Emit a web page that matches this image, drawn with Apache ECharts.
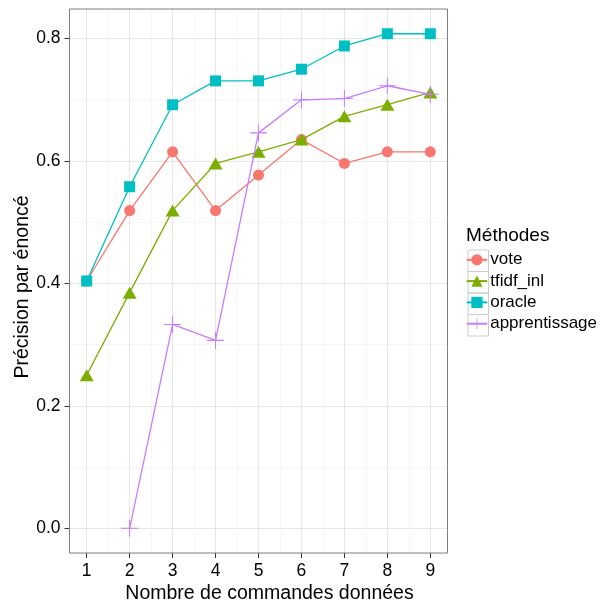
<!DOCTYPE html>
<html>
<head>
<meta charset="utf-8">
<script src="https://cdn.jsdelivr.net/npm/echarts@6/dist/echarts.min.js"></script>
<style>html,body{margin:0;padding:0;background:#fff}#c{width:602px;height:608px}</style>
</head>
<body>
<div id="c"></div>
<script>
const xValues = [1, 2, 3, 4, 5, 6, 7, 8, 9];
const vote = [0.404, 0.519, 0.615, 0.519, 0.577, 0.635, 0.596, 0.615, 0.615];
const tfidf_inl = [0.250, 0.385, 0.519, 0.596, 0.615, 0.635, 0.673, 0.692, 0.712];
const oracle = [0.404, 0.558, 0.692, 0.731, 0.731, 0.750, 0.788, 0.808, 0.808];
const apprentissage = [null, 0.000, 0.333, 0.307, 0.646, 0.700, 0.702, 0.723, 0.709];
const seriesNames = ['vote', 'tfidf_inl', 'oracle', 'apprentissage'];
const xTicks = [1, 9];
const yTicks = [0, 0.8];
const yStep = 0.2;

const FONT = 'Liberation Sans';
const colors = ['#F8766D', '#7CAE00', '#00BFC4', '#C77CFF'];
const plusPath = 'path://M0,9.4H20V10.6H0Z M9.4,0H10.6V20H9.4Z';
const symbols = ['circle', 'triangle', 'rect', plusPath];
const sizes = [11, [14, 12], 11, 17];
const allVals = [vote, tfidf_inl, oracle, apprentissage];

// panel geometry (ggplot expansion)
const P = {left: 69.5, right: 447.5, top: 9, bottom: 553};
const xMin = 0.6, xMax = 9.4;
const yMin = -0.0404, yMax = 0.8484;
const W = 602, H = 608;
const xPix = v => P.left + (v - xMin) / (xMax - xMin) * (P.right - P.left);
const yPix = v => P.bottom - (v - yMin) / (yMax - yMin) * (P.bottom - P.top);

const chart = echarts.init(document.getElementById('c'), null, {renderer: 'canvas'});

const series = seriesNames.map((n, i) => ({
  name: n,
  type: 'line',
  xAxisIndex: 0,
  yAxisIndex: 0,
  data: xValues.map((x, j) => allVals[i][j] == null ? [x, '-'] : [x, allVals[i][j]]),
  symbol: symbols[i],
  symbolSize: sizes[i],
  showAllSymbol: true,
  connectNulls: false,
  lineStyle: {color: colors[i], width: 1.3},
  itemStyle: {color: colors[i], borderWidth: 0},
  emphasis: {disabled: true},
  z: 3 + i
}));

const legendKeys = seriesNames.map((n, i) => ({
  type: 'rect',
  left: 465.5,
  top: 247.5 + i * 21.5,
  shape: {width: 20.5, height: 21.5},
  style: {fill: 'none', stroke: '#CCCCCC', lineWidth: 1},
  z: 0
}));

const gridBase = {containLabel: false, outerBoundsMode: 'none'};

chart.setOption({
  animation: false,
  backgroundColor: '#fff',
  textStyle: {fontFamily: FONT},
  grid: [
    Object.assign({left: P.left, right: W - P.right, top: P.top, bottom: H - P.bottom, show: true,
     borderColor: '#7F7F7F', borderWidth: 1, backgroundColor: 'transparent', z: 1}, gridBase),
    Object.assign({left: xPix(xTicks[0]), right: W - xPix(xTicks[1]), top: P.top, bottom: H - P.bottom, z: 0}, gridBase),
    Object.assign({left: P.left, right: W - P.right, top: yPix(yTicks[1]), bottom: H - yPix(yTicks[0]), z: 0}, gridBase)
  ],
  xAxis: [
    {type: 'value', gridIndex: 0, min: xMin, max: xMax,
     axisLine: {show: false}, axisTick: {show: false}, axisLabel: {show: false}, splitLine: {show: false},
     name: 'Nombre de commandes données', nameLocation: 'middle', nameGap: 31,
     nameTextStyle: {fontSize: 19.5, color: '#000', fontFamily: FONT, padding: [0, 0, 0, 22]}},
    {type: 'value', gridIndex: 1, min: xTicks[0], max: xTicks[1], interval: 1,
     axisLine: {show: false},
     axisTick: {show: true, inside: false, length: 5, lineStyle: {color: '#333', width: 1}},
     axisLabel: {show: true, margin: 9, fontSize: 17.5, color: '#000', fontFamily: FONT},
     splitLine: {show: true, lineStyle: {color: '#E6E6E6', width: 1}},
     minorTick: {show: false, splitNumber: 2},
     minorSplitLine: {show: true, lineStyle: {color: '#F6F6F6', width: 1}}},
    {type: 'value', gridIndex: 2, min: 0, max: 1, show: false}
  ],
  yAxis: [
    {type: 'value', gridIndex: 0, min: yMin, max: yMax,
     axisLine: {show: false}, axisTick: {show: false}, axisLabel: {show: false}, splitLine: {show: false},
     name: 'Précision par énoncé', nameLocation: 'middle', nameGap: 37, nameRotate: 90,
     nameTextStyle: {fontSize: 19.5, color: '#000', fontFamily: FONT, padding: [0, 12, 0, 0]}},
    {type: 'value', gridIndex: 1, min: 0, max: 1, show: false},
    {type: 'value', gridIndex: 2, min: yTicks[0], max: yTicks[1], interval: yStep,
     axisLine: {show: false},
     axisTick: {show: true, inside: false, length: 5, lineStyle: {color: '#333', width: 1}},
     axisLabel: {show: true, margin: 9, fontSize: 17.5, color: '#000', fontFamily: FONT,
                 formatter: v => v.toFixed(1)},
     splitLine: {show: true, lineStyle: {color: '#E6E6E6', width: 1}},
     minorTick: {show: false, splitNumber: 2},
     minorSplitLine: {show: true, lineStyle: {color: '#F6F6F6', width: 1}}}
  ],
  title: {
    text: 'Méthodes', left: 466, top: 226, padding: 0,
    textStyle: {fontSize: 19, fontWeight: 'normal', color: '#000', fontFamily: FONT}
  },
  legend: {
    orient: 'vertical', left: 465.7, top: 251.3, padding: 0,
    itemWidth: 20.5, itemHeight: 14, itemGap: 4.3,
    data: seriesNames,
    textStyle: {fontSize: 17, color: '#000', fontFamily: FONT, padding: [0, 0, 0, -2]},
    selectedMode: false
  },
  graphic: legendKeys,
  series: series
});
</script>
</body>
</html>
